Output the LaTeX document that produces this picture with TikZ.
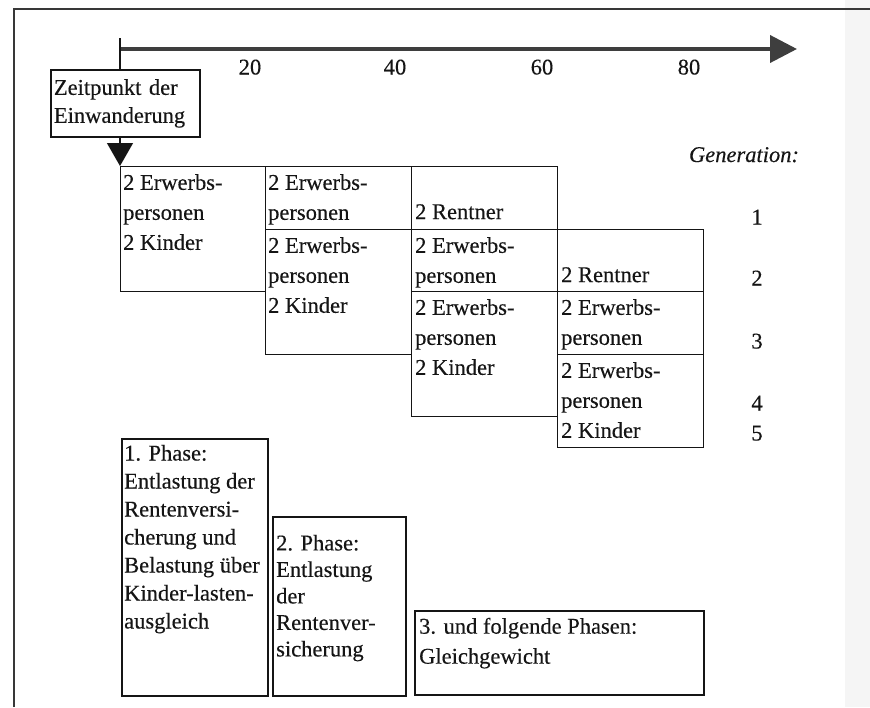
\documentclass[tikz,border=0pt]{standalone}
\usepackage{fontspec}
\setmainfont{Liberation Serif}[UprightFeatures={FakeBold=0.3},ItalicFeatures={FakeBold=0.3}]
\usetikzlibrary{arrows.meta,calc}
\definecolor{ink}{HTML}{151515}
\definecolor{axisgrey}{HTML}{3E3E3E}
\definecolor{scan}{HTML}{F5F5F5}
\tikzset{
  cellbox/.style={draw=ink, line width=1.4pt, anchor=north west, inner sep=0pt},
  phasebox/.style={draw=ink, line width=1.9pt, anchor=north west, inner sep=0pt},
  celltext/.style={anchor=north west, inner sep=0pt, align=left, text=ink,
                   font=\fontsize{22.5}{30}\selectfont},
  numtext/.style={anchor=base, inner sep=0pt, text=ink, font=\fontsize{22.5}{27}\selectfont},
  frameline/.style={draw=ink!85, line width=1.3pt}
}
\begin{document}
\begin{tikzpicture}[x=1pt,y=-1pt]
\useasboundingbox (0,0) rectangle (870,707);
\fill[scan] (845,0) rectangle (870,707);
% frame
\draw[frameline] (14,707) -- (14,9) -- (870,9);

% time axis
\coordinate (axstart) at (119,49);
\coordinate (axend) at (797,49);
\draw[axisgrey, line width=4pt, -{Triangle[width=27pt,length=27pt]}] (axstart) -- (axend);
\node[numtext] (l20) at (250,74.5) {20};
\node[numtext] (l40) at (395,74.5) {40};
\node[numtext] (l60) at (542,74.5) {60};
\node[numtext] (l80) at (689,74.5) {80};

% immigration box
\node[draw=ink, line width=1.9pt, anchor=north west, minimum width=149pt, minimum height=67pt,
      text width=143pt, inner xsep=3pt, inner ysep=0pt, align=left, text=ink,
      font=\fontsize{22.5}{28}\selectfont] (zeit) at (50,69) {Zeitpunkt der\\Einwanderung};

% grid cells
\node[cellbox, minimum width=145pt, minimum height=125pt] (c11) at (120,166) {};
\node[cellbox, minimum width=146pt, minimum height=63pt]  (c21) at (265,166) {};
\node[cellbox, minimum width=146pt, minimum height=125pt] (c22) at (265,229) {};
\node[cellbox, minimum width=146pt, minimum height=63pt]  (c31) at (411,166) {};
\node[cellbox, minimum width=146pt, minimum height=62pt]  (c32) at (411,229) {};
\node[cellbox, minimum width=146pt, minimum height=125pt] (c33) at (411,291) {};
\node[cellbox, minimum width=146pt, minimum height=62pt]  (c41) at (557,229) {};
\node[cellbox, minimum width=146pt, minimum height=63pt]  (c42) at (557,291) {};
\node[cellbox, minimum width=146pt, minimum height=93pt]  (c43) at (557,354) {};

\node[celltext] (t11) at (123,174) {2 Erwerbs-\\personen\\2 Kinder};
\node[celltext] (t21) at (268,174) {2 Erwerbs-\\personen};
\node[celltext] (t22) at (268,237) {2 Erwerbs-\\personen\\2 Kinder};
\node[celltext] (t31) at (415,204) {2 Rentner};
\node[celltext] (t32) at (415,237) {2 Erwerbs-\\personen};
\node[celltext] (t33) at (415,299) {2 Erwerbs-\\personen\\2 Kinder};
\node[celltext] (t41) at (561,267) {2 Rentner};
\node[celltext] (t42) at (561,299) {2 Erwerbs-\\personen};
\node[celltext] (t43) at (561,362) {2 Erwerbs-\\personen\\2 Kinder};

% connectors
\coordinate (ticktop) at (120,38);
\draw[ink, line width=1.4pt] (ticktop) -- (zeit.north -| c11.north west);
\draw[ink, line width=1.4pt, -{Triangle[width=26pt,length=23pt]}] (zeit.south -| c11.north west) -- (c11.north west);

% generation labels
\node[numtext, font=\fontsize{22.5}{27}\selectfont\itshape] (gen) at (744,162) {Generation:};
\node[numtext] (g1) at (757,224.5) {1};
\node[numtext] (g2) at (757,285.5) {2};
\node[numtext] (g3) at (757,348.5) {3};
\node[numtext] (g4) at (757,410.5) {4};
\node[numtext] (g5) at (757,440.5) {5};

% phases
\node[phasebox, minimum width=146pt, minimum height=257pt] (p1) at (121,438) {};
\node[phasebox, minimum width=133pt, minimum height=179pt] (p2) at (272,516) {};
\node[phasebox, minimum width=289pt, minimum height=84pt]  (p3) at (414,610) {};
\node[celltext, font=\fontsize{22.5}{28}\selectfont] (pt1) at (124,444.7)
  {1. Phase:\\Entlastung der\\Rentenversi-\\cherung und\\Belastung über\\Kinder-lasten-\\ausgleich};
\node[celltext, font=\fontsize{22.5}{26.5}\selectfont] (pt2) at (276,534.6)
  {2. Phase:\\Entlastung\\der\\Rentenver-\\sicherung};
\node[celltext] (pt3) at (419,617.6) {3. und folgende Phasen:\\Gleichgewicht};
\end{tikzpicture}
\end{document}
